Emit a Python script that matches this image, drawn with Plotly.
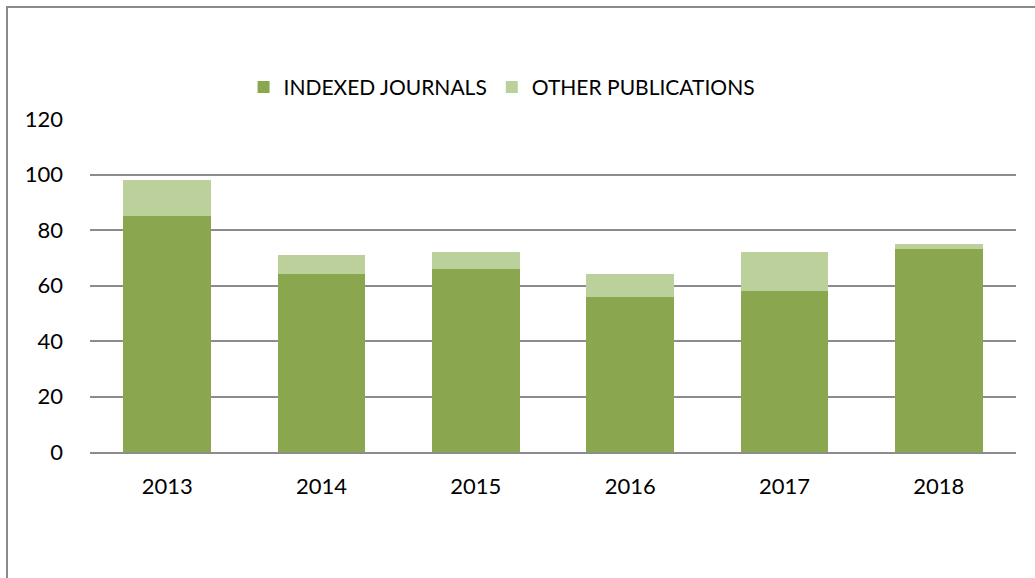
import plotly.graph_objects as go

years = ["2013", "2014", "2015", "2016", "2017", "2018"]
indexed_journals = [85, 64, 66, 56, 58, 73]
other_publications = [13, 7, 6, 8, 14, 2]
y_ticks = [0, 20, 40, 60, 80, 100, 120]

W, H = 1035, 578
L, T = 90, 119
R = W - 1016
B = H - 452
PW, PH = W - L - R, H - T - B

fig = go.Figure()
fig.add_bar(x=years, y=indexed_journals, name="INDEXED JOURNALS",
            marker=dict(color="#8AA64E", line=dict(width=0)))
fig.add_bar(x=years, y=other_publications, name="OTHER PUBLICATIONS",
            marker=dict(color="#BBD09A", line=dict(width=0)))

fig.update_layout(
    barmode="stack",
    bargap=0.43,
    width=W, height=H,
    margin=dict(l=L, r=R, t=T, b=B, pad=0),
    paper_bgcolor="white", plot_bgcolor="white",
    font=dict(family="Lato", size=22, color="#000000"),
    showlegend=True,
    legend=dict(orientation="h", x=0.445, xanchor="center", y=1.095, yanchor="middle",
                font=dict(size=21), traceorder="normal", itemwidth=30,
                bgcolor="rgba(0,0,0,0)"),
    xaxis=dict(showgrid=False, showline=True, linecolor="#8C8C8C", linewidth=2,
               ticks="", ticklabelstandoff=14, fixedrange=True),
    yaxis=dict(range=[0, 120], tickvals=y_ticks, showgrid=True, gridcolor="#8C8C8C",
               gridwidth=2, zeroline=False, showline=False, ticks="",
               ticklabelstandoff=26, fixedrange=True),
    shapes=[dict(type="rect", xref="paper", yref="paper",
                 x0=(7 - L) / PW, x1=(1050 - L) / PW,
                 y0=(452 - 600) / PH, y1=1 + (T - 7) / PH,
                 line=dict(color="#898989", width=2), layer="below")],
)

fig.write_html("out.html",
               config={"displayModeBar": False},
               post_script="document.body.style.margin='0';document.body.style.overflow='hidden';")
